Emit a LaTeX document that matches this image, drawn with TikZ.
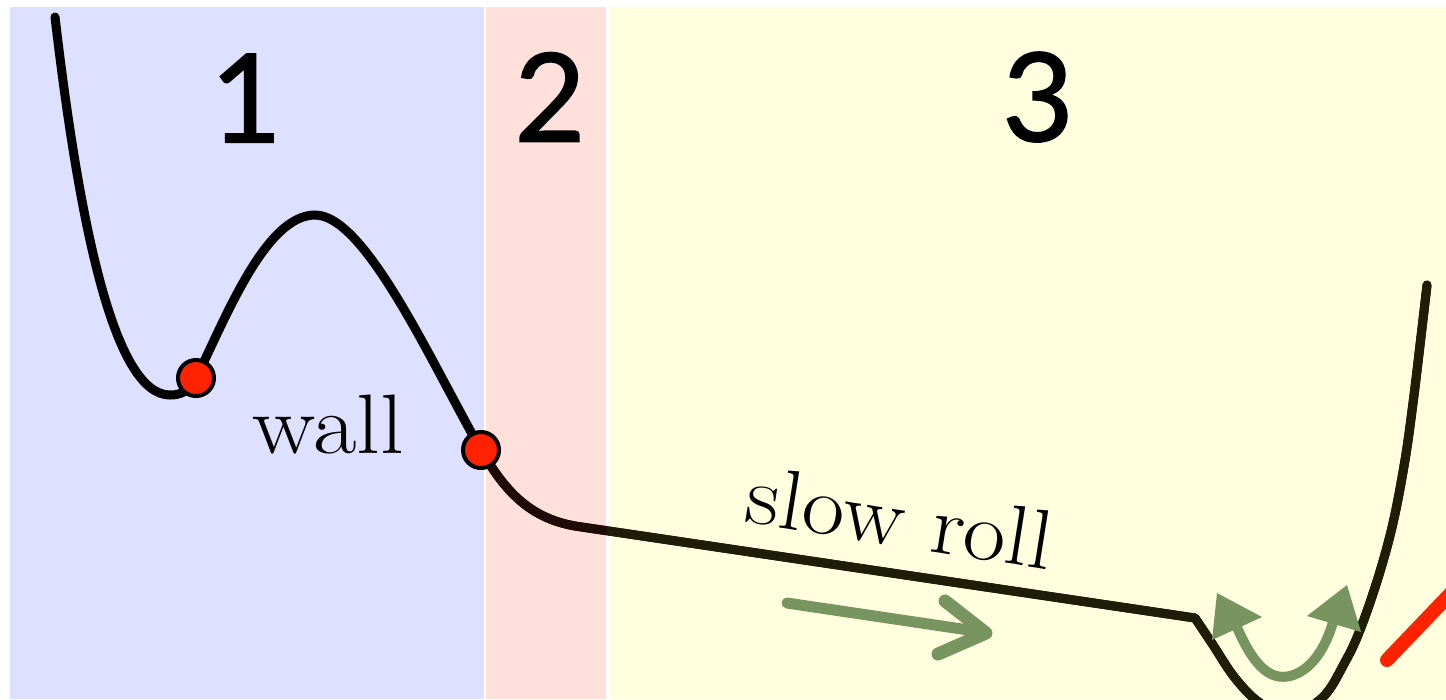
\documentclass[tikz,border=0pt]{standalone}
\usepackage{fontspec}
\newfontfamily\digitfont{Lato}[FakeBold=1.3]
\definecolor{bgblue}{RGB}{221,224,254}
\definecolor{bgpink}{RGB}{255,224,218}
\definecolor{bgyellow}{RGB}{255,255,224}
\definecolor{dotred}{RGB}{255,34,0}
\definecolor{chalkgreen}{RGB}{120,148,96}
\definecolor{curveolive}{RGB}{30,30,8}
\definecolor{curvebrown}{RGB}{32,10,5}
\begin{document}
\begin{tikzpicture}[x=0.01cm,y=-0.01cm,
  curve/.style={line width=0.09cm, line cap=round, line join=round},
  dot/.style={circle, fill=dotred, draw=black, line width=0.04cm, minimum size=0.36cm, inner sep=0pt},
  chalk/.style={draw=chalkgreen, line width=0.11cm, line cap=round, line join=round},
  digit/.style={font=\digitfont\fontsize{35}{40}\selectfont, inner sep=0pt},
  lab/.style={font=\fontsize{24}{28}\selectfont, inner sep=0pt}]
\useasboundingbox (0,0) rectangle (1446,699);
\clip (0,0) rectangle (1446,699);
\fill[white] (0,0) rectangle (1446,699);
\fill[bgblue] (10,7) rectangle (484,699);
\fill[bgpink] (486,7) rectangle (606,699);
\fill[bgyellow] (609,7) rectangle (1446,699);
% digits
\node[digit] (d1) at (246,98) {1};
\node[digit] (d2) at (550,97) {2};
\node[digit] (d3) at (1038,97) {3};
% potential curve
\def\potential{(55,17) .. controls (80,230) and (115,395) .. (170,395)
  .. controls (182,395) and (190,390) .. (196,378)
  .. controls (225,320) and (265,215) .. (315,215)
  .. controls (365,215) and (430,360) .. (480,448)
  .. controls (505,492) and (530,518) .. (575,526)
  -- (1195,618)
  -- plot[smooth,tension=0.6] coordinates {(1195,618) (1213,645) (1235,678) (1260,703) (1290,715) (1323,697) (1345,662) (1360,630) (1378,578) (1393,523) (1405,460) (1413,403) (1420,345) (1427,285)}}
\draw[curve, black] \potential;
\begin{scope}
\clip (485,0) rectangle (607,699);
\draw[curve, curvebrown] \potential;
\end{scope}
\begin{scope}
\clip (607,0) rectangle (1446,699);
\draw[curve, curveolive] \potential;
\end{scope}
% dots
\node[dot] (p1) at (196,378) {};
\node[dot] (p2) at (481,450) {};
% labels
\node[lab, anchor=base west] (wall) at (252,453) {\scalebox{1.12}[1]{wall}};
\node[lab, anchor=base, rotate=-9] (slow) at (896,546) {\scalebox{1.1}[1]{slow roll}};
% green arrows
\coordinate (a1) at (787,603);
\coordinate (a2) at (982,632);
\draw[chalk] (a1) -- (a2);
\draw[chalk, line width=0.13cm] (945,601) -- (986,633) -- (938,654);
\coordinate (b1) at (1236,625);
\coordinate (b2) at (1333,622);
\draw[chalk, line width=0.1cm] (b1) .. controls (1255,670) and (1272,680) .. (1290,676) .. controls (1310,671) and (1325,650) .. (b2);
\fill[chalkgreen] (1217,593) -- (1262,617) -- (1212,640) -- cycle;
\fill[chalkgreen] (1347,585) -- (1361,632) -- (1307,616) -- cycle;
% red chalk line
\coordinate (r1) at (1387,660);
\coordinate (r2) at (1452,592);
\draw[draw=dotred, line width=0.14cm, line cap=round] (r1) -- (r2);
\end{tikzpicture}
\end{document}
